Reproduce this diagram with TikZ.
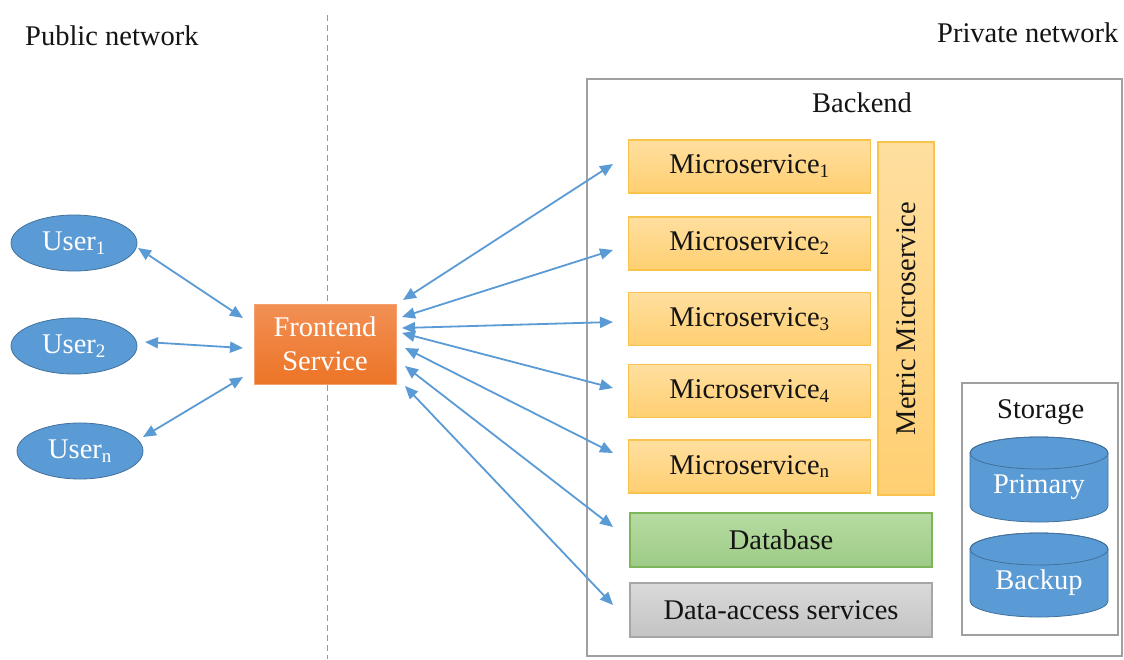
\documentclass[tikz,border=0pt]{standalone}
\usepackage{fontspec}
\setmainfont{Liberation Serif}
\usetikzlibrary{arrows.meta,shapes.geometric}
\definecolor{arrowblue}{HTML}{5B9BD5}
\definecolor{userfill}{HTML}{5B9BD5}
\definecolor{userdraw}{HTML}{41719C}
\definecolor{msdraw}{HTML}{F9C44D}
\definecolor{mstop}{HTML}{FFDF9F}
\definecolor{msbot}{HTML}{FFCF72}
\definecolor{dbtop}{HTML}{B7DBA2}
\definecolor{dbbot}{HTML}{9DCB86}
\definecolor{dbdraw}{HTML}{7CB55A}
\definecolor{datop}{HTML}{DADADA}
\definecolor{dabot}{HTML}{C3C3C3}
\definecolor{dadraw}{HTML}{A6A6A6}
\definecolor{fetop}{HTML}{F29055}
\definecolor{febot}{HTML}{EC7426}
\definecolor{fedraw}{HTML}{F4A070}
\definecolor{boxgray}{HTML}{A0A0A0}
\definecolor{txt}{HTML}{141414}
\tikzset{
  every node/.style={font=\fontsize{28.5}{32}\selectfont, text=txt},
  user/.style={ellipse, fill=userfill, draw=userdraw, line width=0.8pt,
    minimum width=126pt, minimum height=56pt, inner sep=0pt, text=white},
  msbox/.style={rectangle, draw=msdraw, line width=1.2pt, top color=mstop, bottom color=msbot,
    minimum width=242pt, minimum height=53pt, inner sep=0pt},
  dbbox/.style={rectangle, draw=dbdraw, line width=1.2pt, top color=dbtop, bottom color=dbbot,
    minimum width=302pt, minimum height=54pt, inner sep=0pt},
  dabox/.style={rectangle, draw=dadraw, line width=1.2pt, top color=datop, bottom color=dabot,
    minimum width=302pt, minimum height=54pt, inner sep=0pt},
  febox/.style={rectangle, draw=fedraw, line width=1pt, top color=fetop, bottom color=febot,
    minimum width=142pt, minimum height=80pt, inner sep=0pt, text=white, align=center,
    font=\fontsize{28.5}{34}\selectfont},
  conn/.style={arrowblue, line width=1.8pt, {Triangle[length=13pt,width=11pt]}-{Triangle[length=13pt,width=11pt]}},
  group/.style={draw=boxgray, line width=1.5pt},
  cyl/.style={fill=userfill, draw=userdraw, line width=0.8pt},
  lbl/.style={inner sep=0pt}
}
\newcommand{\sbs}[1]{\textsubscript{\fontsize{19}{19}\selectfont #1}}
\begin{document}
\begin{tikzpicture}[x=1pt,y=1pt]
\useasboundingbox (0,0) rectangle (1124,-659);
\fill[white] (0,0) rectangle (1124,-659);

% divider
\draw[gray!80, line width=1pt, dash pattern=on 6pt off 4pt] (327,-15) -- (327,-659);

% headings
\node[lbl, anchor=base west] (pub) at (25,-45) {Public network};
\node[lbl, anchor=base west] (priv) at (937,-42) {Private network};

% backend group
\draw[group] (587,-79) rectangle (1122,-656);
\node[lbl, anchor=base west] (backend) at (812,-112) {Backend};

% microservices
\node[msbox] (m1) at (749.5,-166.5) {Microservice\sbs{1}};
\node[msbox] (m2) at (749.5,-243.5) {Microservice\sbs{2}};
\node[msbox] (m3) at (749.5,-319) {Microservice\sbs{3}};
\node[msbox] (m4) at (749.5,-391) {Microservice\sbs{4}};
\node[msbox] (mn) at (749.5,-466.5) {Microservice\sbs{n}};
\node[msbox, rotate=90, minimum width=353pt, minimum height=56pt] (metric) at (906,-318.5) {Metric Microservice};
\node[dbbox] (db) at (781,-540) {Database};
\node[dabox] (da) at (781,-610) {Data-access services};

% storage
\draw[group, line width=1.2pt] (962,-383) rectangle (1118,-635);
\node[lbl, anchor=base west] (storage) at (997,-418) {Storage};
\filldraw[cyl] (970,-453) -- (970,-506) arc[start angle=180,end angle=360,x radius=69pt,y radius=16pt]
  -- (1108,-453) arc[start angle=0,end angle=180,x radius=69pt,y radius=16pt] -- cycle;
\draw[userdraw, line width=0.8pt] (1039,-453) ellipse[x radius=69pt,y radius=16pt];
\node[lbl, text=white] (primary) at (1039,-487) {Primary};
\filldraw[cyl] (970,-549) -- (970,-601) arc[start angle=180,end angle=360,x radius=69pt,y radius=16pt]
  -- (1108,-549) arc[start angle=0,end angle=180,x radius=69pt,y radius=16pt] -- cycle;
\draw[userdraw, line width=0.8pt] (1039,-549) ellipse[x radius=69pt,y radius=16pt];
\node[lbl, text=white] (backup) at (1039,-583) {Backup};

% users and frontend
\node[user] (u1) at (74,-243) {User\sbs{1}};
\node[user] (u2) at (74,-346) {User\sbs{2}};
\node[user] (un) at (80,-451) {User\sbs{n}};
\node[febox] (fe) at (325,-344) {Frontend\\Service};

% connector end points
\coordinate (u1e) at (138,-248);
\coordinate (u2e) at (145,-342);
\coordinate (une) at (143,-437);
\coordinate (fl1) at (243,-318);
\coordinate (fl2) at (243,-348);
\coordinate (fl3) at (243,-377);
\coordinate (fr1) at (403,-300);
\coordinate (fr2) at (402,-317);
\coordinate (fr3) at (402,-328);
\coordinate (fr4) at (402,-333);
\coordinate (fr5) at (405,-348);
\coordinate (fr6) at (405,-366);
\coordinate (fr7) at (405,-386);
\coordinate (m1w) at (613,-164);
\coordinate (m2w) at (613,-250);
\coordinate (m3w) at (613,-322);
\coordinate (m4w) at (613,-388);
\coordinate (mnw) at (613,-453);
\coordinate (dbw) at (613,-527);
\coordinate (daw) at (613,-605);

\draw[conn] (u1e) -- (fl1);
\draw[conn] (u2e) -- (fl2);
\draw[conn] (une) -- (fl3);
\draw[conn] (fr1) -- (m1w);
\draw[conn] (fr2) -- (m2w);
\draw[conn] (fr3) -- (m3w);
\draw[conn] (fr4) -- (m4w);
\draw[conn] (fr5) -- (mnw);
\draw[conn] (fr6) -- (dbw);
\draw[conn] (fr7) -- (daw);
\end{tikzpicture}
\end{document}
